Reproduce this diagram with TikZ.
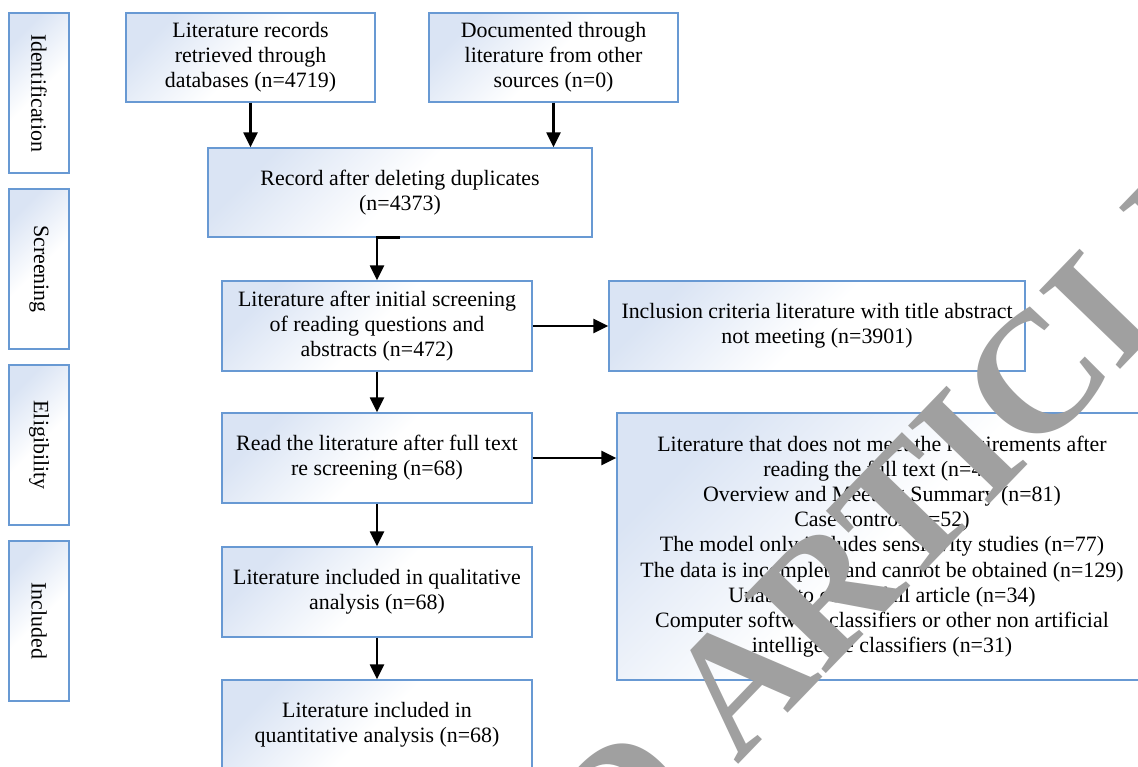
\documentclass[tikz,border=0pt]{standalone}
\usepackage{fontspec}
\setmainfont{Liberation Serif}
\usetikzlibrary{arrows.meta,calc}
\definecolor{bordblue}{RGB}{104,153,211}
\definecolor{fillblue}{RGB}{218,228,244}
\definecolor{wmgray}{RGB}{160,160,160}
\begin{document}
\begin{tikzpicture}[x=1pt,y=-1pt,
  font=\fontsize{21.9}{25.2}\selectfont,
  box/.style={draw=bordblue, line width=1.3pt, top color=fillblue, bottom color=white,
    middle color=white, shading angle=45, align=center, inner sep=2pt, text=black},
  mainbox/.style={box, minimum width=310pt, minimum height=90pt},
  sidebox/.style={box, rotate=-90, minimum width=160pt, minimum height=60pt},
  arr/.style={-{Triangle[length=15pt,width=14pt]}, line width=2.3pt},
  wm/.style={text=wmgray, inner sep=0pt, font=\fontsize{172}{176}\selectfont\bfseries}]
\useasboundingbox (0,0) rectangle (1138,767);
\clip (0,0) rectangle (1138,767);
\fill[white] (0,0) rectangle (1138,767);
% side labels
\node[sidebox] (idl) at (39,93) {Identification};
\node[sidebox] (scr) at (39,269) {Screening};
\node[sidebox] (eli) at (39,445) {Eligibility};
\node[sidebox] (inc) at (39,621) {Included};
% main boxes
\node[box, minimum width=249pt, minimum height=89pt] (b1) at (250.5,57.5)
  {Literature records\\retrieved through\\databases (n=4719)};
\node[box, minimum width=249pt, minimum height=89pt] (b2) at (553.5,57.5)
  {Documented through\\literature from other\\sources (n=0)};
\node[box, minimum width=384pt, minimum height=89pt] (b3) at (400,192.5)
  {Record after deleting duplicates\\(n=4373)};
\node[mainbox] (b4) at (377,326)
  {Literature after initial screening\\of reading questions and\\abstracts (n=472)};
\node[mainbox] (b5) at (377,458)
  {Read the literature after full text\\re screening (n=68)};
\node[mainbox] (b6) at (377,592)
  {Literature included in qualitative\\analysis (n=68)};
\node[mainbox] (b7) at (377,725)
  {Literature included in\\quantitative analysis (n=68)};
\node[box, minimum width=416pt, minimum height=90pt] (rA) at (817,326)
  {Inclusion criteria literature with title abstract\\not meeting (n=3901)};
\node[box, minimum width=530pt, minimum height=267pt] (rB) at (882,546.5)
  {Literature that does not meet the requirements after\\
   reading the full text (n=40)\\
   Overview and Meeting Summary (n=81)\\
   Case control (n=52)\\
   The model only includes sensitivity studies (n=77)\\
   The data is incomplete and cannot be obtained (n=129)\\
   Unable to obtain full article (n=34)\\
   Computer software classifiers or other non artificial\\
   intelligence classifiers (n=31)};
% connectors
\draw[arr] (b1.south) -- (b1.south |- b3.north);
\draw[arr] (b2.south) -- (b2.south |- b3.north);
\draw[arr] (b3.south) -| (b4.north);
\draw[arr] (b4.east) -- (rA.west);
\draw[arr] (b4.south) -- (b5.north);
\draw[arr] (b5.east) -- (b5.east -| rB.west);
\draw[arr] (b5.south) -- (b6.north);
\draw[arr] (b6.south) -- (b7.north);
% watermark
\node[wm, rotate=46, anchor=base east] (wmark) at (1278,206) {RETRACTED ARTICLE};
\end{tikzpicture}
\end{document}
